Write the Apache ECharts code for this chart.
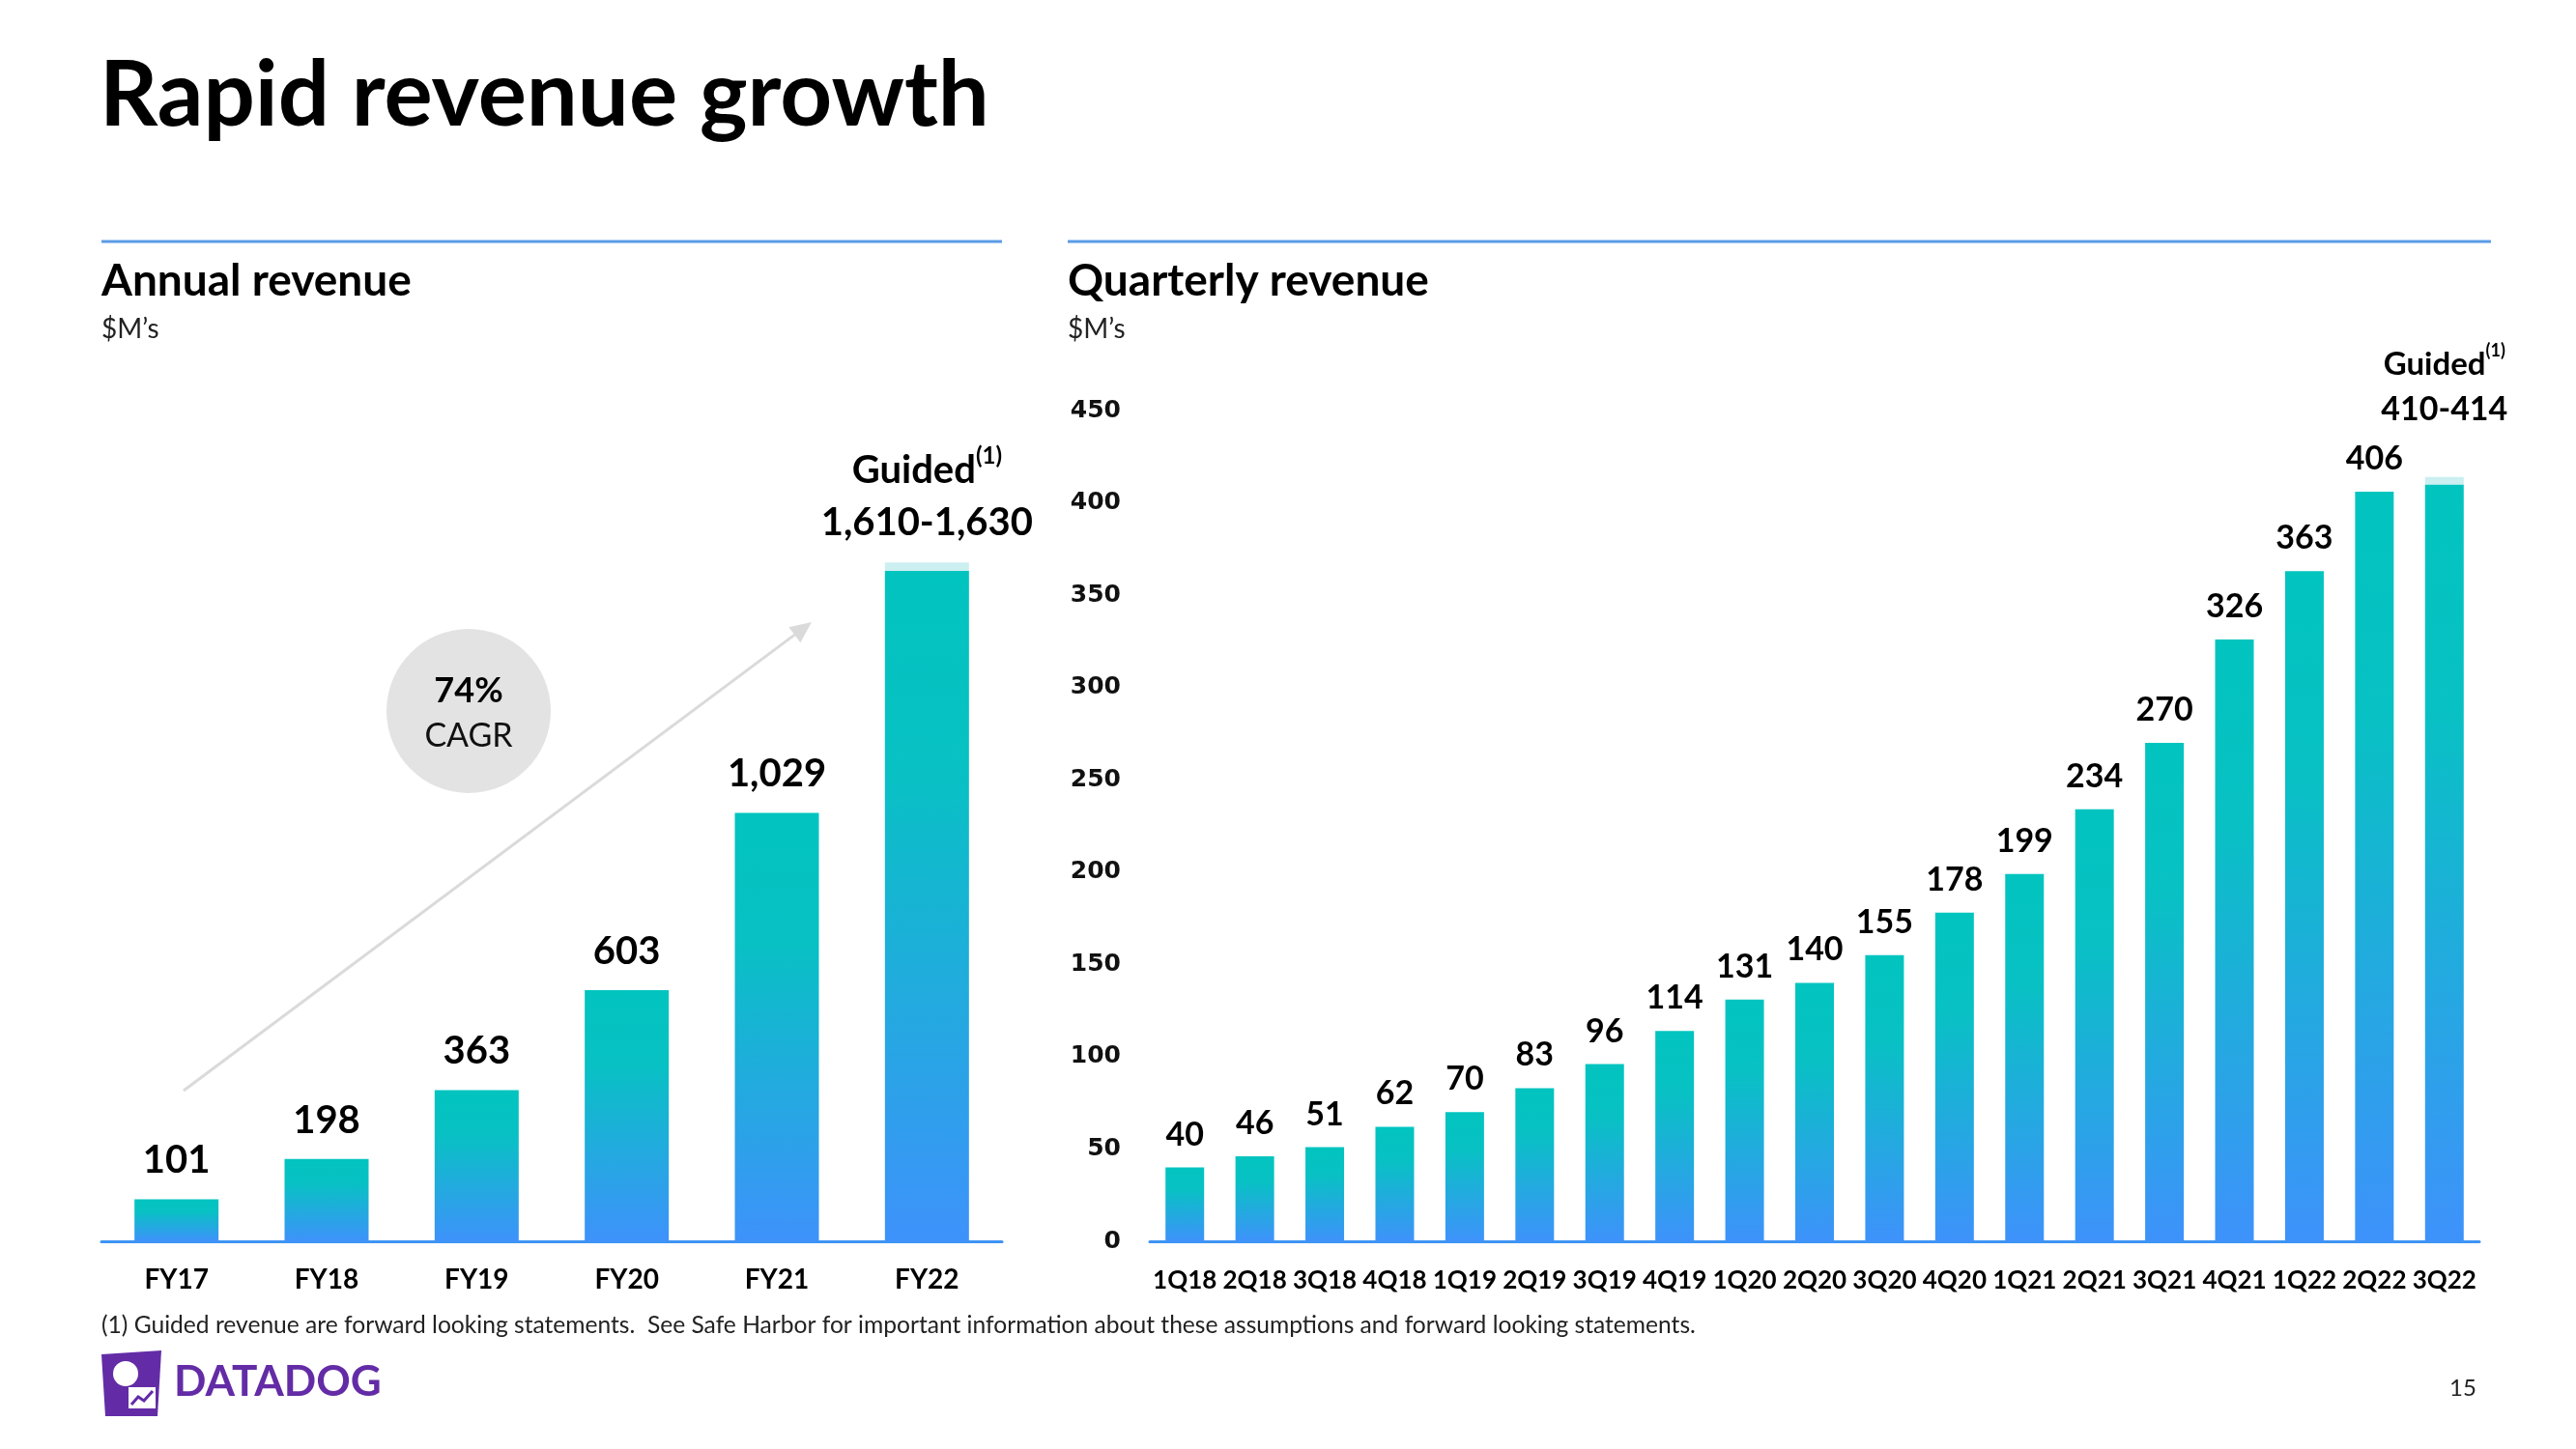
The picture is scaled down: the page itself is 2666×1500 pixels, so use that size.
<!DOCTYPE html>
<html><head><meta charset="utf-8">
<script src="https://cdn.jsdelivr.net/npm/echarts@6/dist/echarts.min.js"></script>
<style>html,body{margin:0;padding:0;background:#fff}#c{width:2666px;height:1500px}</style>
</head><body><div id="c"></div>
<script>
// ---------- data ----------
const annualCategories = ['FY17','FY18','FY19','FY20','FY21','FY22'];
const annualRevenue    = [101, 198, 363, 603, 1029, 1610];
const annualGuidedExtra = [null, null, null, null, null, 20];   // guided range 1,610-1,630

const quarterCategories = ['1Q18','2Q18','3Q18','4Q18','1Q19','2Q19','3Q19','4Q19','1Q20','2Q20',
                           '3Q20','4Q20','1Q21','2Q21','3Q21','4Q21','1Q22','2Q22','3Q22'];
const quarterlyRevenue  = [40, 46, 51, 62, 70, 83, 96, 114, 131, 140, 155, 178, 199, 234, 270, 326, 363, 406, 410];
const quarterlyGuidedExtra = [null,null,null,null,null,null,null,null,null,null,null,null,null,null,null,null,null,null, 4]; // 410-414

const quarterlyAxisMin = 0, quarterlyAxisMax = 450, quarterlyAxisStep = 50;
const cagrText = ['74%', 'CAGR'];

// ---------- styles ----------
const FONT = 'Lato, "Noto Sans", sans-serif';
const fmt = v => v.toLocaleString('en-US');
const barGrad = () => new echarts.graphic.LinearGradient(0, 0, 0, 1, [
  {offset: 0, color: '#02C4BF'},
  {offset: 0.3, color: '#08C1C4'},
  {offset: 1, color: '#3E92FB'}
]);
const GUIDE_COLOR = '#CCEFF1';
const AXIS_BLUE = '#3F94F4';
const RULE_BLUE = '#5B9BE6';

const chart = echarts.init(document.getElementById('c'), null, {renderer: 'canvas'});

function txt(text, x, y, size, weight, opts = {}) {
  return {
    type: 'text', x, y, silent: true,
    style: Object.assign({
      text, fill: opts.fill || '#000', fontSize: size, fontWeight: weight,
      fontFamily: opts.family || FONT,
      textAlign: opts.align || 'left', textVerticalAlign: 'middle'
    }, opts.style || {})
  };
}

// arrow geometry (decorative)
const ax0 = 190, ay0 = 1129, ax1 = 840, ay1 = 644;
const len = Math.hypot(ax1 - ax0, ay1 - ay0);
const ux = (ax1 - ax0) / len, uy = (ay1 - ay0) / len;
const bx = ax1 - 22 * ux, by = ay1 - 22 * uy;

const option = {
  backgroundColor: '#fff',
  animation: false,
  textStyle: {fontFamily: FONT},
  grid: [
    {left: 105, width: 932, top: 509, height: 776},
    {left: 1190, width: 1376, top: 425, height: 860}
  ],
  xAxis: [
    {gridIndex: 0, type: 'category', data: annualCategories,
     axisLine: {lineStyle: {color: AXIS_BLUE, width: 3}}, axisTick: {show: false},
     axisLabel: {color: '#000', fontSize: 28, fontWeight: 'bold', fontFamily: FONT, margin: 26}},
    {gridIndex: 1, type: 'category', data: quarterCategories,
     axisLine: {lineStyle: {color: AXIS_BLUE, width: 3}}, axisTick: {show: false},
     axisLabel: {color: '#000', fontSize: 26, fontWeight: 'bold', fontFamily: FONT, margin: 28, interval: 0, hideOverlap: false}}
  ],
  yAxis: [
    {gridIndex: 0, type: 'value', min: 0, max: 1800, show: false, splitLine: {show: false}},
    {gridIndex: 1, type: 'value', min: quarterlyAxisMin, max: quarterlyAxisMax, interval: quarterlyAxisStep,
     axisLine: {show: false}, axisTick: {show: false}, splitLine: {show: false},
     axisLabel: {color: '#111', fontSize: 25, fontWeight: 'bold', fontFamily: '"DejaVu Sans", sans-serif', margin: 30}}
  ],
  series: [
    {type: 'bar', xAxisIndex: 0, yAxisIndex: 0, stack: 'annual', barWidth: 87,
     data: annualRevenue,
     itemStyle: {color: barGrad()},
     label: {show: true, position: 'top', distance: 20, color: '#000', fontSize: 40, fontWeight: 'bold', fontFamily: FONT,
             formatter: p => annualGuidedExtra[p.dataIndex] == null ? fmt(p.value) : ''}},
    {type: 'bar', xAxisIndex: 0, yAxisIndex: 0, stack: 'annual', barWidth: 87,
     data: annualGuidedExtra.map(v => v == null ? '-' : v),
     itemStyle: {color: GUIDE_COLOR},
     label: {show: true, position: 'top', distance: 14, color: '#000', fontFamily: FONT,
             formatter: p => {
               const b = annualRevenue[p.dataIndex];
               return '{g|Guided}{s|(1)}\n{v|' + fmt(b) + '-' + fmt(b + p.value) + '}';
             },
             rich: {
               g: {fontSize: 40, fontWeight: 'bold', fontFamily: FONT, color: '#000', lineHeight: 54},
               s: {fontSize: 24, fontWeight: 'bold', fontFamily: FONT, color: '#000', lineHeight: 54, verticalAlign: 'top'},
               v: {fontSize: 40, fontWeight: 'bold', fontFamily: FONT, color: '#000', lineHeight: 54}
             }}},
    {type: 'bar', xAxisIndex: 1, yAxisIndex: 1, stack: 'quarterly', barWidth: 40,
     data: quarterlyRevenue,
     itemStyle: {color: barGrad()},
     label: {show: true, position: 'top', distance: 17, color: '#000', fontSize: 34, fontWeight: 'bold', fontFamily: FONT,
             formatter: p => quarterlyGuidedExtra[p.dataIndex] == null ? fmt(p.value) : ''}},
    {type: 'bar', xAxisIndex: 1, yAxisIndex: 1, stack: 'quarterly', barWidth: 40,
     data: quarterlyGuidedExtra.map(v => v == null ? '-' : v),
     itemStyle: {color: GUIDE_COLOR},
     label: {show: true, position: 'top', distance: 46, color: '#000', fontFamily: FONT,
             formatter: p => {
               const b = quarterlyRevenue[p.dataIndex];
               return '{g|Guided}{s|(1)}\n{v|' + fmt(b) + '-' + fmt(b + p.value) + '}';
             },
             rich: {
               g: {fontSize: 33, fontWeight: 'bold', fontFamily: FONT, color: '#000', lineHeight: 47},
               s: {fontSize: 18, fontWeight: 'bold', fontFamily: FONT, color: '#000', lineHeight: 47, verticalAlign: 'top'},
               v: {fontSize: 34, fontWeight: 'bold', fontFamily: FONT, color: '#000', lineHeight: 47}
             }}}
  ],
  graphic: [
    txt('Rapid revenue growth', 103, 100, 94, 'bold'),
    {type: 'line', silent: true, shape: {x1: 105, y1: 250, x2: 1037, y2: 250}, style: {stroke: RULE_BLUE, lineWidth: 3}},
    {type: 'line', silent: true, shape: {x1: 1105, y1: 250, x2: 2578, y2: 250}, style: {stroke: RULE_BLUE, lineWidth: 3}},
    txt('Annual revenue', 105, 291, 46, 'bold'),
    txt('$M\u2019s', 105, 341, 28, 'normal', {fill: '#222'}),
    txt('Quarterly revenue', 1105, 291, 46, 'bold'),
    txt('$M\u2019s', 1105, 341, 28, 'normal', {fill: '#222'}),
    // growth arrow
    {type: 'line', silent: true, shape: {x1: ax0, y1: ay0, x2: bx, y2: by}, style: {stroke: '#DADADA', lineWidth: 3}},
    {type: 'polygon', silent: true, shape: {points: [[ax1, ay1], [bx + 10 * uy, by - 10 * ux], [bx - 10 * uy, by + 10 * ux]]}, style: {fill: '#DADADA'}},
    // CAGR bubble
    {type: 'circle', silent: true, shape: {cx: 485, cy: 736, r: 85}, style: {fill: '#E3E3E3'}},
    txt(cagrText[0], 485, 715, 36, 'bold', {align: 'center'}),
    txt(cagrText[1], 485, 762, 34, 'normal', {align: 'center', fill: '#111'}),
    // footnote & page number
    txt('(1) Guided revenue are forward looking statements.  See Safe Harbor for important information about these assumptions and forward looking statements.',
        105, 1372, 24.6, 'normal', {fill: '#222'}),
    txt('15', 2549, 1437, 24, 'normal', {align: 'center', fill: '#222'}),
    // logo
    {type: 'polygon', silent: true, shape: {points: [[105, 1402], [167, 1398], [163, 1466], [109, 1466]]}, style: {fill: '#632CA6'}},
    {type: 'circle', silent: true, shape: {cx: 130, cy: 1422, r: 13}, style: {fill: '#fff'}},
    {type: 'rect', silent: true, shape: {x: 133, y: 1436, width: 28, height: 22}, style: {fill: '#fff'}},
    {type: 'polyline', silent: true, shape: {points: [[136, 1454], [143, 1446], [149, 1450], [158, 1440]]}, style: {stroke: '#632CA6', lineWidth: 3, fill: null}},
    txt('DATADOG', 180, 1431, 44, 'bold', {fill: '#632CA6'})
  ]
};
chart.setOption(option);
</script>
</body></html>
